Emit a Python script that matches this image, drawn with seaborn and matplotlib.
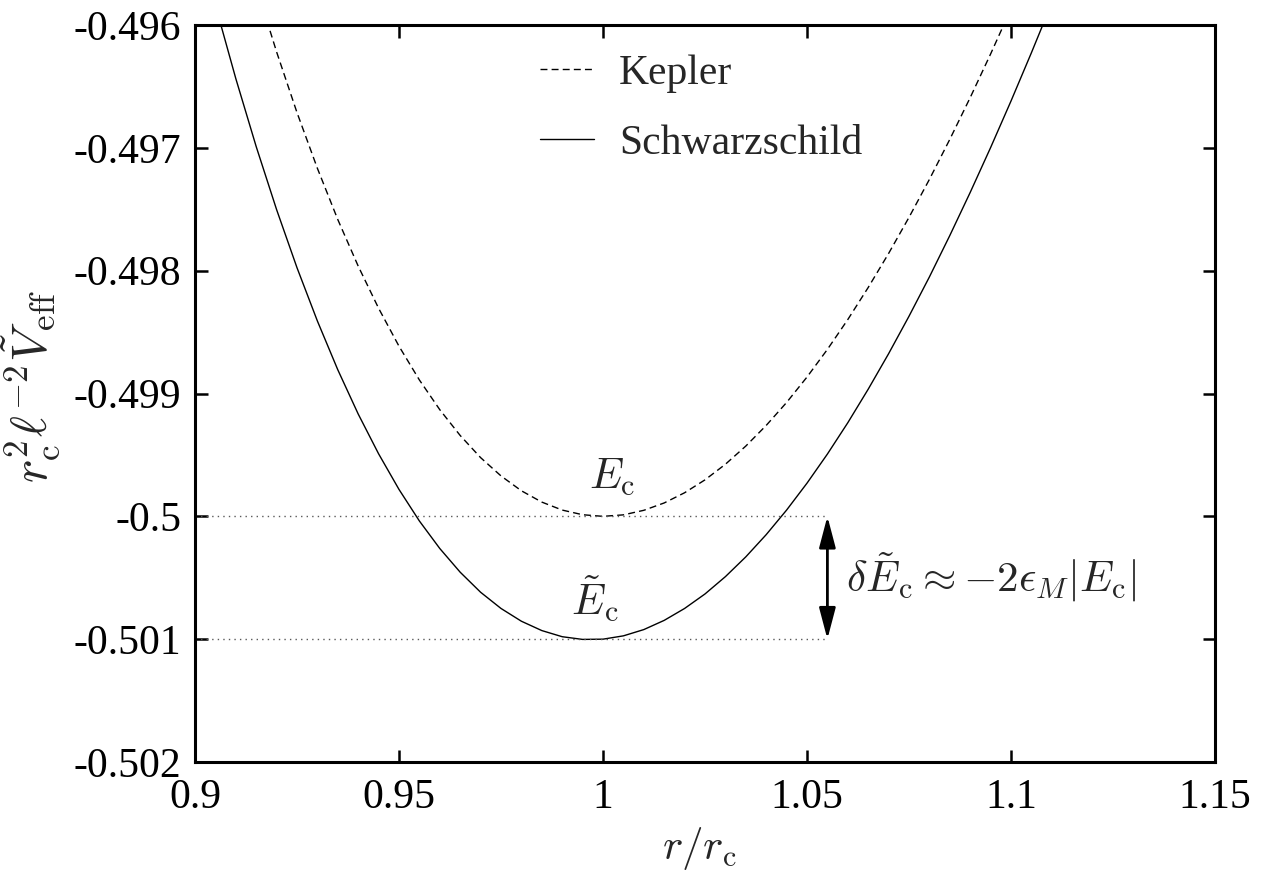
import matplotlib
matplotlib.use("Agg")
import matplotlib.pyplot as plt
import seaborn as sns
import pandas as pd

# sampled radius r/r_c
r_ratio = [0.900, 0.905, 0.910, 0.915, 0.920, 0.925, 0.930, 0.935, 0.940, 0.945,
           0.950, 0.955, 0.960, 0.965, 0.970, 0.975, 0.980, 0.985, 0.990, 0.995,
           1.000, 1.005, 1.010, 1.015, 1.020, 1.025, 1.030, 1.035, 1.040, 1.045,
           1.050, 1.055, 1.060, 1.065, 1.070, 1.075, 1.080, 1.085, 1.090, 1.095,
           1.100, 1.105, 1.110]

# scaled effective potential, Newtonian case
v_kepler = [-0.493827, -0.494490, -0.495109, -0.495685, -0.496219, -0.496713,
            -0.497167, -0.497584, -0.497963, -0.498306, -0.498615, -0.498890,
            -0.499132, -0.499342, -0.499522, -0.499671, -0.499792, -0.499884,
            -0.499949, -0.499987, -0.500000, -0.499988, -0.499951, -0.499891,
            -0.499808, -0.499703, -0.499576, -0.499428, -0.499260, -0.499073,
            -0.498866, -0.498641, -0.498398, -0.498137, -0.497860, -0.497566,
            -0.497257, -0.496931, -0.496591, -0.496236, -0.495868, -0.495485,
            -0.495090]

# scaled effective potential, Schwarzschild case
v_schwarzschild = [-0.495199, -0.495839, -0.496436, -0.496990, -0.497503, -0.497976,
                   -0.498410, -0.498807, -0.499167, -0.499491, -0.499781, -0.500038,
                   -0.500262, -0.500455, -0.500618, -0.500750, -0.500854, -0.500930,
                   -0.500980, -0.501002, -0.501000, -0.500973, -0.500922, -0.500847,
                   -0.500750, -0.500632, -0.500491, -0.500330, -0.500149, -0.499949,
                   -0.499730, -0.499493, -0.499238, -0.498965, -0.498676, -0.498371,
                   -0.498051, -0.497714, -0.497363, -0.496998, -0.496619, -0.496226,
                   -0.495821]

model_names = ["Kepler", "Schwarzschild"]

# circular-orbit energies and marker position of the energy gap
e_circ = -0.5
e_circ_tilde = -0.501
gap_r = 1.055

x_ticks = [0.9, 0.95, 1.0, 1.05, 1.1, 1.15]
x_tick_labels = ["0.9", "0.95", "1", "1.05", "1.1", "1.15"]
y_ticks = [-0.502, -0.501, -0.5, -0.499, -0.498, -0.497, -0.496]
y_tick_labels = ["-0.502", "-0.501", "-0.5", "-0.499", "-0.498", "-0.497", "-0.496"]

sns.set_theme(style="ticks")
plt.rcParams.update({
    "font.family": ["Liberation Serif", "DejaVu Serif"],
    "mathtext.fontset": "cm",
    "axes.unicode_minus": False,
})

df = pd.DataFrame({
    "r": r_ratio * 2,
    "V": v_kepler + v_schwarzschild,
    "model": [model_names[0]] * len(r_ratio) + [model_names[1]] * len(r_ratio),
})

fig = plt.figure(figsize=(12.71, 8.76), dpi=100)
ax = fig.add_axes([195 / 1271, 1 - 762 / 876, 1020 / 1271, 737 / 876])

sns.lineplot(data=df, x="r", y="V", hue="model", style="model",
             palette={"Kepler": "black", "Schwarzschild": "black"},
             dashes={"Kepler": (5, 3), "Schwarzschild": ""},
             linewidth=1.0, ax=ax, legend=True)

# reference levels of the two minima
ax.plot([0.9, gap_r], [e_circ, e_circ], color="0.35", lw=1.0, ls=(0, (1, 3)))
ax.plot([0.9, gap_r], [e_circ_tilde, e_circ_tilde], color="0.35", lw=1.0, ls=(0, (1, 3)))

ax.annotate("", xy=(gap_r, e_circ), xytext=(gap_r, e_circ_tilde),
            arrowprops=dict(arrowstyle="<|-|>,head_length=0.95,head_width=0.25",
                            color="black", lw=2.0, shrinkA=0, shrinkB=0,
                            mutation_scale=20))

ax.text(1.0022, -0.49968, r"$E_\mathrm{c}$", fontsize=31, ha="center", va="center")
ax.text(0.998, -0.50067, r"$\tilde{E}_\mathrm{c}$", fontsize=31, ha="center", va="center")
ax.text(1.0595, -0.50050, r"$\delta\tilde{E}_\mathrm{c}\approx{-}2\epsilon_M|E_\mathrm{c}|$",
        fontsize=31, ha="left", va="center")

ax.set_xlim(0.9, 1.15)
ax.set_ylim(-0.502, -0.496)
ax.set_xticks(x_ticks)
ax.set_xticklabels(x_tick_labels)
ax.set_yticks(y_ticks)
ax.set_yticklabels(y_tick_labels)
ax.tick_params(direction="in", length=9, width=1.8, top=True, right=True,
               labelsize=30, colors="black")
ax.tick_params(axis="x", pad=12)
ax.tick_params(axis="y", pad=10)
for sp in ax.spines.values():
    sp.set_visible(True)
    sp.set_linewidth(2.2)
    sp.set_color("black")

ax.set_xlabel(r"$r/r_\mathrm{c}$", fontsize=31)
ax.set_ylabel(r"$r_\mathrm{c}^2\ell^{-2}\tilde{V}_\mathrm{eff}$", fontsize=36)
ax.xaxis.set_label_coords(0.495, -0.085)
ax.yaxis.set_label_coords(-0.13, 0.51)

handles, labels = ax.get_legend_handles_labels()
ax.legend(handles, labels, loc="upper left", bbox_to_anchor=(0.338, 0.96),
          frameon=False, borderpad=0, borderaxespad=0, handlelength=1.3,
          handletextpad=0.6, labelspacing=0.75, fontsize=30)

fig.savefig("out.png", dpi=100)
